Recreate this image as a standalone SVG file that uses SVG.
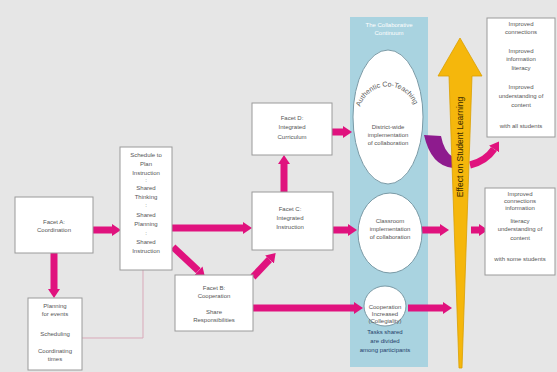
<svg xmlns="http://www.w3.org/2000/svg" width="557" height="372" viewBox="0 0 557 372">
<style>
.box{fill:#fff;stroke:#9a9a9a;stroke-width:1}
.t{font-family:"Liberation Sans",Arial,sans-serif;font-size:6px;fill:#555;text-anchor:middle}
.c{fill:none;stroke:#e0127e;stroke-width:7}
.ell{fill:#fff;stroke:#7a9aa6;stroke-width:1}
</style>
<defs>
<marker id="ah" viewBox="0 -6 9 12" refX="0" refY="0" markerWidth="9" markerHeight="12" markerUnits="userSpaceOnUse" orient="auto">
<path d="M0,-6 L9,0 L0,6 z" fill="#e0127e"/>
</marker>
<path id="arc1" d="M359,116 A28.5,28.5 0 0 1 416,114"/>
</defs>
<rect width="557" height="372" fill="#e6e6e6"/>
<g id="continuum">
<rect x="350" y="17" width="78" height="350" fill="#a9d3e0"/>
<text class="t" x="389" y="27" style="fill:#fff">The Collaborative</text>
<text class="t" x="389" y="35" style="fill:#fff">Continuum</text>
</g>
<g id="connectors">
<path d="M143,270 V338 H82" fill="none" stroke="#d9a9b9" stroke-width="1"/>
<path class="c" d="M93,230 H112" marker-end="url(#ah)"/>
<path class="c" d="M54,253 V289" marker-end="url(#ah)"/>
<path class="c" d="M172,228 H243" marker-end="url(#ah)"/>
<path class="c" d="M284,192 V164" marker-end="url(#ah)"/>
<path class="c" d="M173,247 L198.4,270.8" marker-end="url(#ah)"/>
<path class="c" d="M253,277 L269.5,259.5" marker-end="url(#ah)"/>
<path class="c" d="M332,132 H343" marker-end="url(#ah)"/>
<path class="c" d="M333,230 H348" marker-end="url(#ah)"/>
<path class="c" d="M422,230 H440" marker-end="url(#ah)"/>
<path class="c" d="M471,230 H479" marker-end="url(#ah)"/>
<path class="c" d="M253,308 H354" marker-end="url(#ah)"/>
<path class="c" d="M408,308 H443" marker-end="url(#ah)"/>
<path d="M424,135 L441,136 Q444,152 453,157 L453,168 Q431,166 424,135 z" fill="#8e1b8e"/>
<path class="c" d="M470,165 Q486,161 494,149" marker-end="url(#ah)"/>
</g>
<g id="effect-arrow">
<polygon points="460,38 482,76 472,76 462,368 459,368 449,76 438,76" fill="#f5b70c" stroke="#dba000" stroke-width="0.8"/>
<text x="461" y="147" transform="rotate(-90 461 147)" style="font-family:'Liberation Sans',Arial,sans-serif;font-size:8.5px;fill:#3a2a00;text-anchor:middle;dominant-baseline:middle">Effect on Student Learning</text>
</g>
<g id="facetA">
<rect class="box" x="15" y="197" width="78" height="56"/>
<text class="t" x="54" y="224">Facet A:</text>
<text class="t" x="54" y="232">Coordination</text>
</g>
<g id="planning">
<rect class="box" x="28" y="298" width="54" height="72"/>
<text class="t" x="55" y="308">Planning</text>
<text class="t" x="55" y="316">for events</text>
<text class="t" x="55" y="336">Scheduling</text>
<text class="t" x="55" y="353">Coordinating</text>
<text class="t" x="55" y="361">times</text>
</g>
<g id="schedule">
<rect class="box" x="120" y="147" width="52" height="123"/>
<text class="t" x="146" y="157">Schedule to</text>
<text class="t" x="146" y="166">Plan</text>
<text class="t" x="146" y="175">Instruction</text>
<text class="t" x="146" y="182">:</text>
<text class="t" x="146" y="190">Shared</text>
<text class="t" x="146" y="199">Thinking</text>
<text class="t" x="146" y="207">:</text>
<text class="t" x="146" y="217">Shared</text>
<text class="t" x="146" y="226">Planning</text>
<text class="t" x="146" y="235">:</text>
<text class="t" x="146" y="244">Shared</text>
<text class="t" x="146" y="253">Instruction</text>
</g>
<g id="facetB">
<rect class="box" x="175" y="275" width="78" height="56"/>
<text class="t" x="214" y="290">Facet B:</text>
<text class="t" x="214" y="298">Cooperation</text>
<text class="t" x="214" y="314">Share</text>
<text class="t" x="214" y="322">Responsibilities</text>
</g>
<g id="facetC">
<rect class="box" x="252" y="192" width="81" height="58"/>
<text class="t" x="290" y="211">Facet C:</text>
<text class="t" x="290" y="220">Integrated</text>
<text class="t" x="290" y="229">Instruction</text>
</g>
<g id="facetD">
<rect class="box" x="252" y="103" width="80" height="52"/>
<text class="t" x="292" y="120">Facet D:</text>
<text class="t" x="292" y="129">Integrated</text>
<text class="t" x="292" y="139">Curriculum</text>
</g>
<g id="district">
<ellipse class="ell" cx="388" cy="117" rx="35" ry="67"/>
<text style="font-family:'Liberation Sans',Arial,sans-serif;font-size:7px;fill:#555;text-anchor:middle"><textPath href="#arc1" startOffset="50%">Authentic Co-Teaching</textPath></text>
<text class="t" x="388" y="129">District-wide</text>
<text class="t" x="388" y="137">implementation</text>
<text class="t" x="388" y="145">of collaboration</text>
</g>
<g id="classroom">
<ellipse class="ell" cx="390" cy="233" rx="32" ry="40"/>
<text class="t" x="390" y="223">Classroom</text>
<text class="t" x="390" y="231">implementation</text>
<text class="t" x="390" y="239">of collaboration</text>
</g>
<g id="cooperation">
<ellipse class="ell" cx="385" cy="306" rx="21" ry="20"/>
<text class="t" x="385" y="309">Cooperation</text>
<text class="t" x="385" y="316">Increased</text>
<text class="t" x="385" y="323">(Collegiality)</text>
<text class="t" x="385" y="334" style="fill:#1f3f6a">Tasks shared</text>
<text class="t" x="385" y="343" style="fill:#1f3f6a">are divided</text>
<text class="t" x="385" y="352" style="fill:#1f3f6a">among participants</text>
</g>
<g id="result-all">
<rect class="box" x="487" y="18" width="68" height="119"/>
<text class="t" x="521" y="26">Improved</text>
<text class="t" x="521" y="34">connections</text>
<text class="t" x="521" y="53">Improved</text>
<text class="t" x="521" y="61">information</text>
<text class="t" x="521" y="70">literacy</text>
<text class="t" x="521" y="89">Improved</text>
<text class="t" x="521" y="98">understanding of</text>
<text class="t" x="521" y="107">content</text>
<text class="t" x="521" y="128">with all students</text>
</g>
<g id="result-some">
<rect class="box" x="485" y="188" width="70" height="87"/>
<text class="t" x="520" y="196">Improved</text>
<text class="t" x="520" y="203">connections</text>
<text class="t" x="520" y="210">information</text>
<text class="t" x="520" y="223">literacy</text>
<text class="t" x="520" y="231">understanding of</text>
<text class="t" x="520" y="240">content</text>
<text class="t" x="520" y="261">with some students</text>
</g>
</svg>
